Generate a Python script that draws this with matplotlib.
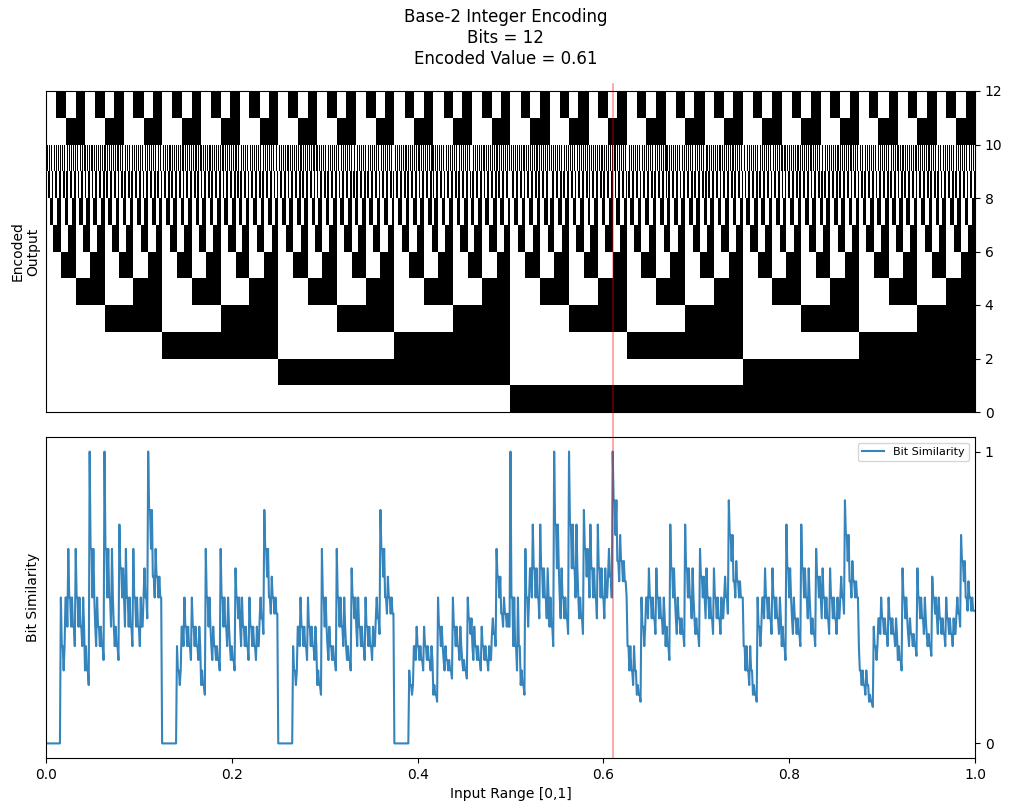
import numpy as np
import matplotlib
matplotlib.use("Agg")
import matplotlib.pyplot as plt

# encoder settings shown in the title
n_bits = 12
encoded_value = 0.61
step = 0.001

input_range = np.arange(0, 1, step)


def encode(x):
    n = np.minimum((np.asarray(x) * 2 ** n_bits).astype(int), 2 ** n_bits - 1)
    shifts = np.arange(n_bits - 1, -1, -1)  # row 0 = most significant bit
    return (n[..., None] >> shifts) & 1


bits = encode(input_range)             # samples x bits
target = encode(np.array([encoded_value]))[0]

on = bits.sum(axis=1)
overlap = (bits & target).sum(axis=1)
similarity = np.where(on > 0, overlap / np.maximum(on, 1), 0.0)

fig = plt.figure(figsize=(10.11, 8.11), dpi=100)
ax1 = fig.add_axes([46 / 1011, 1 - 412 / 811, 929 / 1011, 321 / 811])
ax2 = fig.add_axes([46 / 1011, 1 - 758 / 811, 929 / 1011, 321 / 811])

ax1.imshow(bits.T, cmap="gray_r", aspect="auto", origin="lower",
           extent=[0, 1, 0, n_bits], interpolation="nearest", vmin=0, vmax=1)
ax1.set_xlim(0, 1)
ax1.set_ylim(0, n_bits)
ax1.set_xticks([])
ax1.yaxis.tick_right()
ax1.set_yticks(np.arange(0, n_bits + 1, 2))
ax1.set_ylabel("Encoded\nOutput")

ax2.plot(input_range, similarity, color="C0", alpha=0.9, label="Bit Similarity")
ax2.set_xlim(0, 1)
ax2.set_ylim(-0.05, 1.05)
ax2.yaxis.tick_right()
ax2.set_yticks([0, 1])
ax2.set_ylabel("Bit Similarity")
ax2.set_xlabel("Input Range [0,1]")
ax2.legend(loc="upper right", fontsize=8)

ax2.axvline(encoded_value, ymin=0, ymax=2.1, color="r", alpha=0.4, lw=1.2, clip_on=False)

fig.suptitle("Base-2 Integer Encoding\nBits = %d\nEncoded Value = %.2f" % (n_bits, encoded_value),
             fontsize=12, y=0.99)

fig.savefig("out.png", dpi=100)
